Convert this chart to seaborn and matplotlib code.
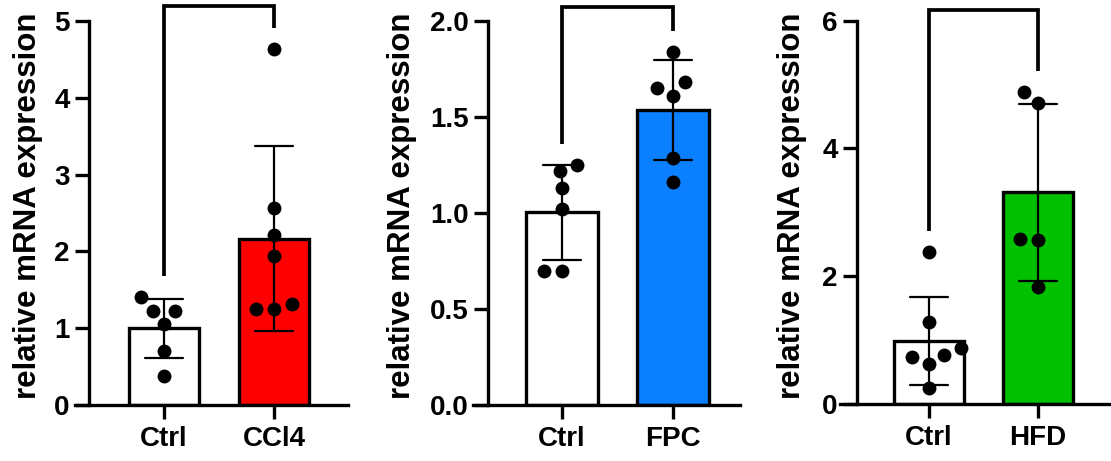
import matplotlib
matplotlib.use("Agg")
import matplotlib.pyplot as plt
import seaborn as sns
import pandas as pd
import numpy as np

# ---- data ----
ctrl_a = [1.40, 1.23, 1.23, 1.05, 0.70, 0.38]
ccl4 = [4.64, 2.56, 2.21, 1.94, 1.31, 1.25, 1.25]
ctrl_b = [1.25, 1.22, 1.13, 1.02, 0.70, 0.70]
fpc = [1.84, 1.68, 1.65, 1.61, 1.285, 1.16]
ctrl_c = [2.38, 1.29, 0.87, 0.77, 0.73, 0.62, 0.245]
hfd = [4.88, 4.71, 2.58, 2.57, 1.83]

group_names = [["Ctrl", "CCl4"], ["Ctrl", "FPC"], ["Ctrl", "HFD"]]
group_values = [[ctrl_a, ccl4], [ctrl_b, fpc], [ctrl_c, hfd]]
bar_colors = [["#FFFFFF", "#FF0000"], ["#FFFFFF", "#0A7FFF"], ["#FFFFFF", "#00C000"]]
y_max = [5, 2, 6]
y_ticks = [[0, 1, 2, 3, 4, 5], [0.0, 0.5, 1.0, 1.5, 2.0], [0, 2, 4, 6]]
y_ticklabels = [["0", "1", "2", "3", "4", "5"], ["0.0", "0.5", "1.0", "1.5", "2.0"], ["0", "2", "4", "6"]]
ylabel = "relative mRNA expression"

sns.set_theme(style="ticks")
plt.rcParams["font.family"] = ["Liberation Sans", "DejaVu Sans"]
plt.rcParams["font.weight"] = "bold"

fig = plt.figure(figsize=(11.11, 4.61), dpi=100)
W, H = 1111, 461

# layout (pixels): axes left, axes right, y-spine, bottom, top, label x
layouts = [
    dict(left=75, right=348, spine=89, c0=164, c1=274, bottom=405, top=21, labx=28),
    dict(left=473, right=740, spine=488, c0=562, c1=673, bottom=405, top=21, labx=402),
    dict(left=840, right=1111, spine=857, c0=929, c1=1038, bottom=404, top=20.7, labx=792),
]
bracket_top_frac = [1.04, 1.0375, 1.027]

LW = 2.4
axes = []
swarm_colls = []
for i in range(3):
    L = layouts[i]
    ax = fig.add_axes([L["left"] / W, 1 - L["bottom"] / H,
                       (L["right"] - L["left"]) / W, (L["bottom"] - L["top"]) / H])
    axes.append(ax)
    names = group_names[i]
    rows = []
    for n, vals in zip(names, group_values[i]):
        for v in vals:
            rows.append({"group": n, "value": v})
    df = pd.DataFrame(rows)
    pal = dict(zip(names, bar_colors[i]))
    sns.barplot(data=df, x="group", y="value", hue="group", order=names, hue_order=names,
                palette=pal, saturation=1, legend=False, errorbar="sd", capsize=0.34,
                width=0.64, edgecolor="black", linewidth=LW,
                err_kws={"color": "black", "linewidth": 1.6}, ax=ax)
    n_before = len(ax.collections)
    # swarm laid out with a wider spacing, then markers shown at their real size
    sns.swarmplot(data=df, x="group", y="value", order=names, color="black",
                  size=12.5, ax=ax, zorder=3)
    swarm_colls.extend(ax.collections[n_before:])

    unit = L["c1"] - L["c0"]
    xl = -(L["c0"] - L["left"]) / unit
    xr = 1 + (L["right"] - L["c1"]) / unit
    xs = -(L["c0"] - L["spine"]) / unit
    ax.set_xlim(xl, xr)
    ax.set_ylim(0, y_max[i])
    ax.spines["top"].set_visible(False)
    ax.spines["right"].set_visible(False)
    ax.spines["left"].set_position(("data", xs))
    ax.spines["left"].set_bounds(0, y_max[i])
    for s in ["left", "bottom"]:
        ax.spines[s].set_linewidth(LW)
        ax.spines[s].set_color("black")
    ax.set_yticks(y_ticks[i])
    ax.set_yticklabels(y_ticklabels[i])
    ax.tick_params(axis="both", length=10, width=LW, color="black",
                   labelsize=20, labelcolor="black")
    ax.tick_params(axis="y", pad=4)
    ax.tick_params(axis="x", pad=5)
    for lab in ax.get_xticklabels() + ax.get_yticklabels():
        lab.set_fontweight("bold")
    ax.set_xlabel("")
    ax.set_ylabel(ylabel, fontsize=22.5, fontweight="bold", color="black")
    ax.yaxis.label.set_va("center")
    ax.yaxis.set_label_coords((L["labx"] - L["left"]) / (L["right"] - L["left"]),
                              (L["bottom"] - 206) / (L["bottom"] - L["top"]))
    ax.set_facecolor("white")

    # significance bracket
    gap = 0.055 * y_max[i]
    lb = max(group_values[i][0]) + gap
    rb = max(group_values[i][1]) + gap
    top = y_max[i] * bracket_top_frac[i]
    ax.plot([0, 0, 1, 1], [lb, top, top, rb], color="black", lw=LW + 0.3,
            clip_on=False, solid_capstyle="butt", solid_joinstyle="miter")

# run seaborn's swarm layout once, keep it, then show the markers at their real size
fig.canvas.draw()
for coll in swarm_colls:
    if "draw" in coll.__dict__:
        del coll.__dict__["draw"]
    coll.set_sizes([10 ** 2])

fig.savefig("out.png", dpi=100, facecolor="white")
